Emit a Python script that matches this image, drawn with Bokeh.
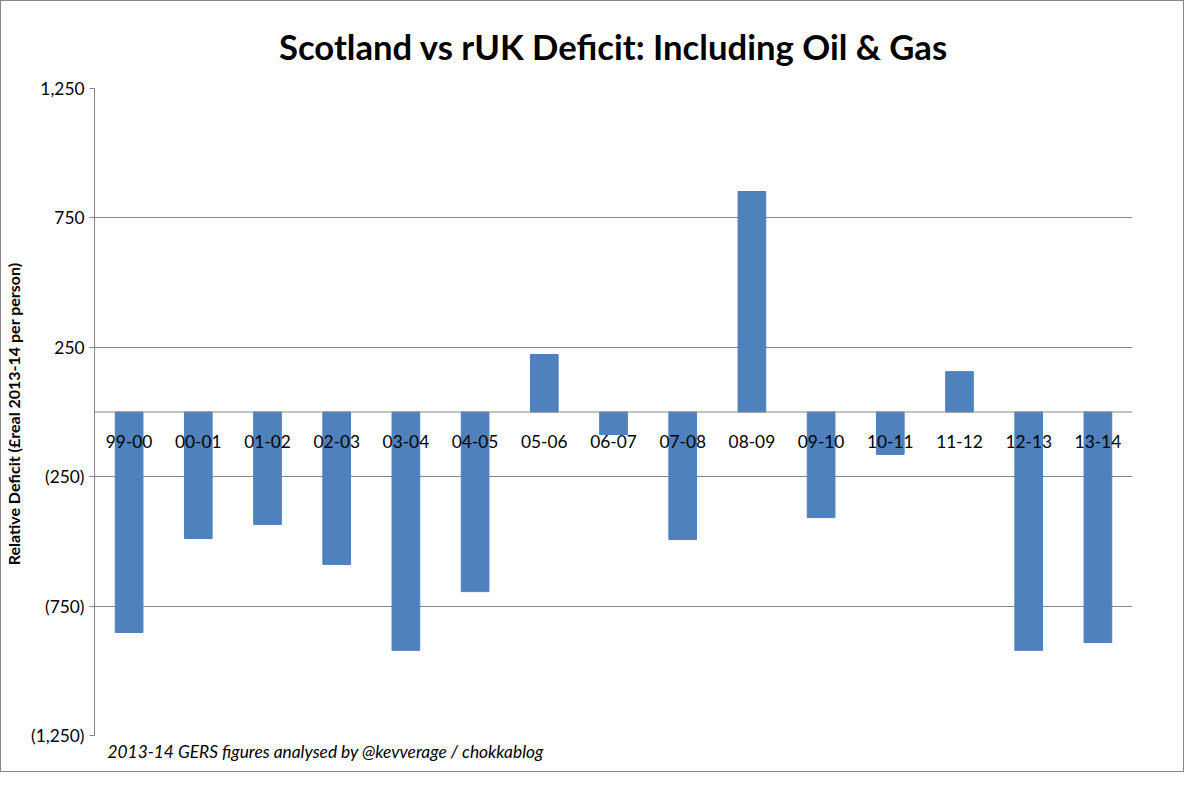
from bokeh.plotting import figure
from bokeh.models import Title, FixedTicker, Span, Range1d
from bokeh.core.properties import value
from bokeh.embed import file_html
from bokeh.resources import INLINE

years = ["99-00","00-01","01-02","02-03","03-04","04-05","05-06","06-07","07-08","08-09","09-10","10-11","11-12","12-13","13-14"]
deficit = [-852,-489,-435,-589,-921,-694,222,-87,-493,852,-408,-164,156,-921,-891]
ticks = [-1250,-750,-250,250,750,1250]
tick_labels = {-1250:"(1,250)",-750:"(750)",-250:"(250)",250:"250",750:"750",1250:"1,250"}

p = figure(width=1184, height=772, x_range=years, y_range=Range1d(-1250,1250),
           output_backend="svg", toolbar_location=None,
           min_border_left=88, min_border_right=53, min_border_top=0, min_border_bottom=0,
           title="Scotland vs rUK Deficit: Including Oil & Gas")
p.styles = {"border": "1px solid #868686"}
p.title.align = "center"
p.title.text_font = "Lato"
p.title.text_font_size = "26pt"
p.title.text_font_style = "bold"
p.title.text_color = "black"
p.title.standoff = 44
p.title.offset = 0
p.vbar(x=years, top=deficit, width=0.4, color="#4F81BD")
p.text(x=years, y=[0]*len(years), text=years, text_align="center", text_baseline="middle",
       y_offset=29, text_font=value("Lato"), text_font_size="13pt", text_color="black")
p.add_layout(Span(location=0, dimension="width", line_color="#868686", line_width=1))

p.xaxis.visible = False
p.xgrid.visible = False
p.yaxis.ticker = FixedTicker(ticks=ticks)
p.yaxis.major_label_overrides = tick_labels
p.yaxis.major_label_text_font = "Lato"
p.yaxis.major_label_text_font_size = "13pt"
p.yaxis.major_label_text_color = "black"
p.yaxis.minor_tick_line_color = None
p.yaxis.axis_line_color = "#868686"
p.yaxis.major_tick_line_color = "#868686"
p.yaxis.major_tick_in = 0
p.yaxis.major_tick_out = 5
p.yaxis.axis_label = "Relative Deficit (£real 2013-14  per person)"
p.yaxis.axis_label_text_font = "Lato"
p.yaxis.axis_label_text_font_style = "bold"
p.yaxis.axis_label_text_font_size = "12pt"
p.yaxis.axis_label_text_color = "black"
p.ygrid.grid_line_color = "#868686"
p.outline_line_color = None
p.border_fill_color = "white"

foot = Title(text="2013-14 GERS figures analysed by @kevverage / chokkablog", align="left",
             text_font="Lato", text_font_style="italic", text_font_size="13pt",
             text_color="black", offset=13, standoff=6)
p.add_layout(foot, "below")
p.min_border_bottom = 38

open("out.html","w").write(file_html(p, INLINE))
